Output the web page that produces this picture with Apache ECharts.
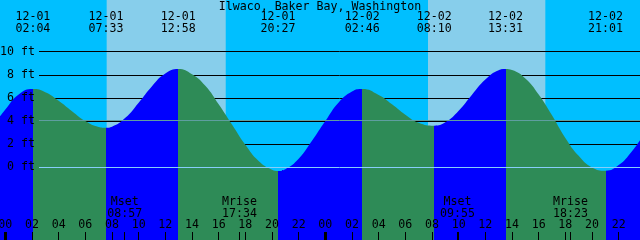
<!DOCTYPE html>
<html>
<head>
<meta charset="utf-8">
<script src="https://cdn.jsdelivr.net/npm/echarts@6/dist/echarts.min.js"></script>
<style>
html, body { margin: 0; padding: 0; background: #00bfff; }
#main { width: 640px; height: 240px; }
</style>
</head>
<body>
<div id="main"></div>
<script>
// hours counted from 12-01 00:00, heights in feet
var tideHours = [-0.5, 0, 1, 2.067, 3, 4, 5, 6, 7, 7.55, 8, 9, 10, 11, 12, 12.967,
    14, 15, 16, 17, 18, 19, 20, 20.45, 21, 22, 23, 24, 25, 26, 26.767,
    28, 29, 30, 31, 32.167, 33, 34, 35, 36, 37, 37.517,
    38, 39, 40, 41, 42, 43, 44, 45.017, 46, 47, 47.6];
var tideFeet = [4.25, 5.0, 6.3, 6.77, 6.5, 5.75, 4.85, 4.0, 3.5, 3.43, 3.52, 4.28, 5.59, 7.02, 8.11, 8.5,
    8.05, 7.05, 5.45, 3.7, 1.95, 0.55, -0.2, -0.31, -0.15, 0.75, 2.3, 4.0, 5.6, 6.55, 6.77,
    6.25, 5.45, 4.55, 3.85, 3.6, 3.89, 4.89, 6.28, 7.59, 8.39, 8.5,
    8.41, 7.68, 6.3, 4.5, 2.55, 1.0, 0.0, -0.28, 0.2, 1.4, 2.35];

// high / low tide events
var eventHours = [2.067, 7.55, 12.967, 20.45, 26.767, 32.167, 37.517, 45.017];
var eventTypes = ['H', 'L', 'H', 'L', 'H', 'L', 'H', 'L'];
var eventDates = ['12-01', '12-01', '12-01', '12-01', '12-02', '12-02', '12-02', '12-02'];
var eventTimes = ['02:04', '07:33', '12:58', '20:27', '02:46', '08:10', '13:31', '21:01'];

// moon events
var moonHours = [8.95, 17.567, 33.917, 42.383];
var moonNames = ['Mset', 'Mrise', 'Mset', 'Mrise'];
var moonTimes = ['08:57', '17:34', '09:55', '18:23'];

var sunrise = [7.6, 31.7];
var sunset = [16.53, 40.5];
var midnights = [0, 24];

var hourTicks = [0, 2, 4, 6, 8, 10, 12, 14, 16, 18, 20, 22, 24, 26, 28, 30, 32, 34, 36, 38, 40, 42, 44, 46, 48];
var depthTicks = [0, 2, 4, 6, 8, 10];
var meanLevel = 4.07;

var xMin = -0.4, xMax = 47.6;
var yMin = -6.27, yMax = 14.46;

var font = 'DejaVu Sans Mono';
var txt = { color: '#000', fontFamily: font, fontSize: 11.6 };

var RISING = '#0000ff', FALLING = '#2e8b57';

function pad(v) {
    return ('0' + (v % 24)).slice(-2);
}

// colour pieces: after a high the water falls, after a low it rises
var pieces = [{ lt: eventHours[0], color: RISING }];
for (var i = 0; i < eventHours.length; i++) {
    var p = { gte: eventHours[i], color: eventTypes[i] == 'H' ? FALLING : RISING };
    if (i + 1 < eventHours.length) p.lt = eventHours[i + 1];
    pieces.push(p);
}

var dayAreas = [];
for (var i = 0; i < sunrise.length; i++) {
    dayAreas.push([{ xAxis: sunrise[i] }, { xAxis: sunset[i] }]);
}

var myChart = echarts.init(document.getElementById('main'));

myChart.setOption({
    backgroundColor: '#00bfff',
    animation: false,
    title: {
        text: 'Ilwaco, Baker Bay, Washington',
        left: 'center',
        top: 0,
        padding: [1, 0, 0, 0],
        textStyle: Object.assign({}, txt, { fontWeight: 'normal' })
    },
    grid: [
        { left: 0, right: 0, top: 0, bottom: 0, containLabel: false, outerBoundsMode: 'none' },
        { left: 39, right: 0, top: 0, bottom: 0, containLabel: false, outerBoundsMode: 'none' }
    ],
    xAxis: [
        {
            gridIndex: 0, type: 'value', min: xMin, max: xMax, position: 'bottom', z: 10, zlevel: 1,
            axisLine: { show: false, onZero: false }, splitLine: { show: false },
            axisTick: { show: true, inside: true, length: 8, customValues: hourTicks.concat(moonHours),
                lineStyle: { color: '#000', width: 1 } },
            axisLabel: Object.assign({ inside: true, margin: 9, customValues: hourTicks,
                formatter: function (v) { return pad(v); } }, txt)
        },
        {
            gridIndex: 0, type: 'value', min: xMin, max: xMax, position: 'top', z: 10, zlevel: 1,
            axisLine: { show: false, onZero: false }, axisTick: { show: false }, splitLine: { show: false },
            axisLabel: Object.assign({ inside: true, margin: 11, lineHeight: 12, customValues: eventHours,
                formatter: function (v) {
                    var k = eventHours.indexOf(v);
                    return eventDates[k] + '\n' + eventTimes[k];
                } }, txt)
        },
        {
            gridIndex: 0, type: 'value', min: xMin, max: xMax, position: 'bottom', z: 10, zlevel: 1,
            axisLine: { show: false, onZero: false }, splitLine: { show: false },
            axisTick: { show: true, inside: true, length: 8, customValues: midnights,
                lineStyle: { color: '#000', width: 3 } },
            axisLabel: Object.assign({ inside: true, margin: 20, lineHeight: 12, customValues: moonHours,
                formatter: function (v) {
                    var k = moonHours.indexOf(v);
                    return moonNames[k] + '\n' + moonTimes[k];
                } }, txt)
        },
        { gridIndex: 1, type: 'value', min: 0, max: 1, show: false, axisLine: { onZero: false } }
    ],
    yAxis: [
        {
            gridIndex: 0, type: 'value', min: yMin, max: yMax, z: 10, zlevel: 1,
            axisLine: { show: false, onZero: false }, axisTick: { show: false }, splitLine: { show: false },
            axisLabel: Object.assign({ inside: true, margin: 35, align: 'right', customValues: depthTicks,
                formatter: '{value} ft' }, txt)
        },
        { gridIndex: 1, type: 'value', min: yMin, max: yMax, show: false, axisLine: { onZero: false } }
    ],
    visualMap: {
        type: 'piecewise',
        show: false,
        dimension: 0,
        seriesIndex: 2,
        pieces: pieces
    },
    series: [
        {
            name: 'daylight', type: 'line', xAxisIndex: 0, yAxisIndex: 0, data: [], z: 0,
            markArea: { silent: true, z: 0, itemStyle: { color: '#87ceeb', opacity: 1 }, data: dayAreas }
        },
        {
            name: 'gridlines', type: 'line', xAxisIndex: 3, yAxisIndex: 1, data: [], z: 1,
            markLine: {
                silent: true, z: 1, symbol: 'none', label: { show: false },
                lineStyle: { color: '#000', width: 1, type: 'solid' },
                data: depthTicks.filter(function (v) { return v > 0; }).map(function (v) { return { yAxis: v }; })
            }
        },
        {
            name: 'tide', type: 'line', xAxisIndex: 0, yAxisIndex: 0, z: 2,
            data: tideHours.map(function (h, i) { return [h, tideFeet[i]]; }),
            smooth: true, symbol: 'none',
            lineStyle: { width: 0 },
            areaStyle: { opacity: 1, origin: 'start' }
        },
        {
            name: 'levels', type: 'line', xAxisIndex: 3, yAxisIndex: 1, data: [], z: 3,
            markLine: {
                silent: true, z: 3, symbol: 'none', label: { show: false },
                data: [
                    { yAxis: meanLevel, lineStyle: { color: '#5f9ea0', width: 1, type: 'solid' } },
                    { yAxis: 0, lineStyle: { color: '#87cefa', width: 1, type: 'solid' } }
                ]
            }
        }
    ]
});
</script>
</body>
</html>
